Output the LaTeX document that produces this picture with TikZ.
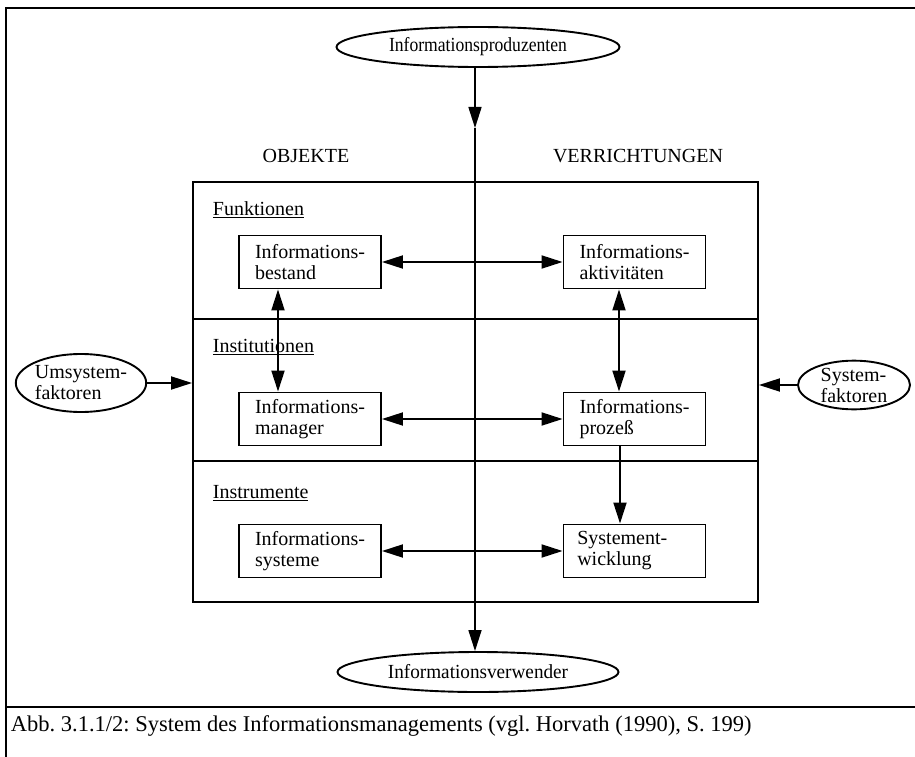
\documentclass[tikz,border=0pt]{standalone}
\usepackage{fontspec}
\setmainfont{Liberation Serif}
\usetikzlibrary{arrows.meta,shapes.geometric}
\frenchspacing
\begin{document}
\begin{tikzpicture}[x=1pt,y=-1pt,
  line width=1.9pt,
  font=\fontsize{20}{21}\selectfont,
  tip/.tip={Triangle[length=21pt,width=13pt]},
  arr/.style={-tip},
  darr/.style={tip-tip},
  infobox/.style={draw,rectangle,minimum width=142pt,minimum height=53pt,
    inner sep=0pt,align=left},
  oval/.style={draw,ellipse,inner sep=0pt},
  sideoval/.style={oval,align=left,font=\fontsize{20}{21}\selectfont},
  seclabel/.style={anchor=west,inner sep=0pt},
  head/.style={inner sep=0pt}]
\useasboundingbox (0,0) rectangle (915,757);

% frame of the figure and caption line
\draw (6,757) -- (6,8) -- (915,8);
\draw (6,707) -- (915,707);
\node[anchor=west,inner sep=0pt,font=\fontsize{22.5}{24}\selectfont] (caption) at (10,726)
  {Abb. 3.1.1/2: System des Informationsmanagements (vgl. Horvath (1990), S. 199)};

% outer ellipses
\node[oval,minimum width=283pt,minimum height=40pt] (prod) at (478,47)
  {\scalebox{0.88}[1]{Informationsproduzenten}};
\node[oval,minimum width=281pt,minimum height=40pt] (verw) at (478,672)
  {\scalebox{0.96}[1]{Informationsverwender}};
\node[sideoval,minimum width=122pt,minimum height=58pt] (umsys) at (81,383)
  {Umsystem-\\faktoren};
\node[sideoval,minimum width=112pt,minimum height=46pt] (sys) at (854,385)
  {System-\\faktoren};

% column headings
\node[head] (obj) at (306,156) {OBJEKTE};
\node[head] (verr) at (638,156) {VERRICHTUNGEN};

% main frame with its three sections
\node[draw,rectangle,minimum width=565pt,minimum height=420pt,inner sep=0pt] (main) at (475.5,392) {};
\coordinate (d1l) at (193,319); \coordinate (d1r) at (758,319);
\coordinate (d2l) at (193,461); \coordinate (d2r) at (758,461);
\draw (d1l) -- (d1r);
\draw (d2l) -- (d2r);

\node[seclabel] (funk) at (212,210) {\underline{Funktionen}};
\node[seclabel] (inst) at (212,347) {\underline{Institutionen}};
\node[seclabel] (instr) at (212,493) {\underline{Instrumente}};

% boxes
\node[infobox] (bestand) at (310,262) {Informations-\\bestand};
\node[infobox] (aktiv) at (634.5,262) {Informations-\\aktivitäten};
\node[infobox] (manager) at (310,419) {Informations-\\manager};
\node[infobox] (prozess) at (634.5,419) {Informations-\\prozeß};
\node[infobox] (systeme) at (310,551) {Informations-\\systeme};
\node[infobox] (entw) at (634.5,551) {Systement-\\wicklung\hphantom{ions-}};

% central axis from producers to users
\coordinate (axis) at (475,128);
\draw[arr,line width=1.6pt] (prod.south -| axis) -- (axis);
\draw[arr,line width=1.6pt] (axis) -- (verw.north -| axis);

% connectors between the boxes
\draw[darr] (bestand) -- (aktiv);
\draw[darr] (manager) -- (prozess);
\draw[darr] (systeme) -- (entw);
\draw[darr] (bestand.south -| 278,0) -- (manager.north -| 278,0);
\draw[darr] (aktiv.south -| 619,0) -- (prozess.north -| 619,0);
\draw[arr] (prozess.south -| 620,0) -- (entw.north -| 620,0);

% environment factors
\draw[arr] (umsys) -- (umsys -| main.west);
\draw[arr] (sys) -- (sys -| main.east);
\end{tikzpicture}
\end{document}
